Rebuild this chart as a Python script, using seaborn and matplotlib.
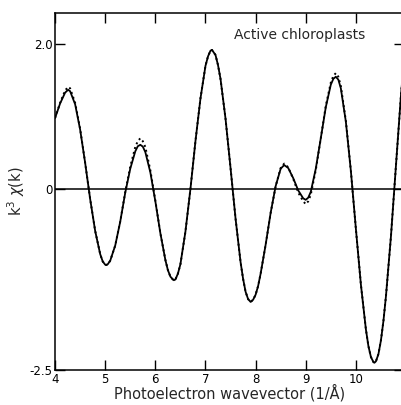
import numpy as np
import pandas as pd
import matplotlib
matplotlib.use("Agg")
import matplotlib.pyplot as plt
import seaborn as sns

# photoelectron wavevector k (1/A)
k = [4.00, 4.10, 4.20, 4.26, 4.30, 4.40, 4.50, 4.60, 4.70, 4.80,
     4.90, 4.95, 5.00, 5.02, 5.05, 5.10, 5.20, 5.30, 5.40, 5.50,
     5.60, 5.65, 5.70, 5.75, 5.80, 5.90, 6.00, 6.10, 6.20, 6.25,
     6.30, 6.35, 6.37, 6.40, 6.45, 6.50, 6.60, 6.70, 6.80, 6.90,
     7.00, 7.05, 7.10, 7.13, 7.20, 7.25, 7.30, 7.40, 7.50, 7.60,
     7.70, 7.75, 7.80, 7.85, 7.90, 7.95, 8.00, 8.05, 8.10, 8.20,
     8.30, 8.40, 8.50, 8.57, 8.65, 8.75, 8.85, 8.95, 9.00, 9.05,
     9.10, 9.20, 9.30, 9.40, 9.50, 9.55, 9.60, 9.65, 9.70, 9.80,
     9.90, 10.00, 10.10, 10.20, 10.25, 10.30, 10.35, 10.37, 10.40, 10.45,
     10.50, 10.55, 10.60, 10.70, 10.80, 10.90, 11.00]

# measured k^3 chi(k) (solid line)
chi_data = [0.98, 1.18, 1.33, 1.37, 1.35, 1.17, 0.82, 0.36, -0.14, -0.58,
            -0.90, -1.00, -1.046, -1.05, -1.04, -0.99, -0.78, -0.45, -0.05, 0.28,
            0.52, 0.59, 0.61, 0.585, 0.51, 0.23, -0.17, -0.61, -0.98, -1.12,
            -1.21, -1.25, -1.26, -1.25, -1.17, -1.04, -0.59, 0.00, 0.66, 1.25,
            1.70, 1.83, 1.91, 1.92, 1.85, 1.71, 1.52, 0.97, 0.29, -0.41,
            -1.01, -1.24, -1.42, -1.52, -1.56, -1.53, -1.46, -1.34, -1.17, -0.77,
            -0.33, 0.04, 0.28, 0.33, 0.29, 0.15, -0.02, -0.13, -0.15, -0.12,
            -0.04, 0.28, 0.70, 1.13, 1.44, 1.52, 1.55, 1.51, 1.39, 0.93,
            0.25, -0.55, -1.32, -1.94, -2.17, -2.32, -2.39, -2.40, -2.38, -2.28,
            -2.09, -1.82, -1.48, -0.65, 0.33, 1.30, 2.10]

# fitted k^3 chi(k) (dotted line)
chi_fit = [0.98, 1.19, 1.36, 1.41, 1.39, 1.19, 0.83, 0.36, -0.14, -0.58,
           -0.90, -1.00, -1.046, -1.05, -1.04, -0.99, -0.78, -0.45, -0.04, 0.31,
           0.58, 0.66, 0.70, 0.66, 0.58, 0.26, -0.16, -0.61, -0.98, -1.12,
           -1.21, -1.25, -1.26, -1.25, -1.17, -1.04, -0.59, 0.00, 0.66, 1.25,
           1.70, 1.83, 1.91, 1.92, 1.85, 1.71, 1.52, 0.97, 0.29, -0.41,
           -1.01, -1.24, -1.42, -1.52, -1.56, -1.53, -1.46, -1.34, -1.17, -0.77,
           -0.33, 0.04, 0.29, 0.35, 0.30, 0.14, -0.05, -0.17, -0.21, -0.17,
           -0.08, 0.26, 0.70, 1.15, 1.47, 1.56, 1.60, 1.55, 1.42, 0.94,
           0.25, -0.55, -1.32, -1.94, -2.17, -2.32, -2.39, -2.40, -2.38, -2.28,
           -2.09, -1.82, -1.48, -0.65, 0.33, 1.30, 2.10]

x_ticks = [4, 5, 6, 7, 8, 9, 10]
y_ticks = [-2.5, 0, 2.0]
y_tick_labels = ["-2.5", "0", "2.0"]

df = pd.DataFrame({"k": k, "data": chi_data, "fit": chi_fit})

sns.set_style("ticks")
plt.rcParams["font.family"] = ["DejaVu Sans"]

fig = plt.figure(figsize=(4.02, 4.05), dpi=100)
ax = fig.add_axes([0.137, 0.0864, 0.868, 0.8815])

ax.axhline(0, color="black", lw=1.1, zorder=1)
sns.lineplot(data=df, x="k", y="fit", ax=ax, color="black", lw=1.4,
             linestyle=(0, (1, 1.6)), zorder=2)
sns.lineplot(data=df, x="k", y="data", ax=ax, color="black", lw=1.3, zorder=3)

ax.set_xlim(4, 10.96)
ax.set_ylim(-2.5, 2.43)

ax.set_xticks(x_ticks)
ax.set_yticks(y_ticks)
ax.set_yticklabels(y_tick_labels)
ax.tick_params(axis="both", direction="in", length=7, width=1, labelsize=8.5,
               top=True, right=True, pad=2, colors="black")
ax.tick_params(axis="x", pad=2)

for side in ["left", "bottom", "top", "right"]:
    ax.spines[side].set_linewidth(1.1)
    ax.spines[side].set_color("black")

ax.set_xlabel("Photoelectron wavevector (1/Å)", fontsize=10.5, labelpad=-1)
ax.set_ylabel(r"k$^3$ $\chi$(k)", fontsize=10.5, labelpad=2)

ax.text(7.56, 2.12, "Active chloroplasts", fontsize=10, va="center", ha="left")

fig.savefig("out.png", dpi=100)
